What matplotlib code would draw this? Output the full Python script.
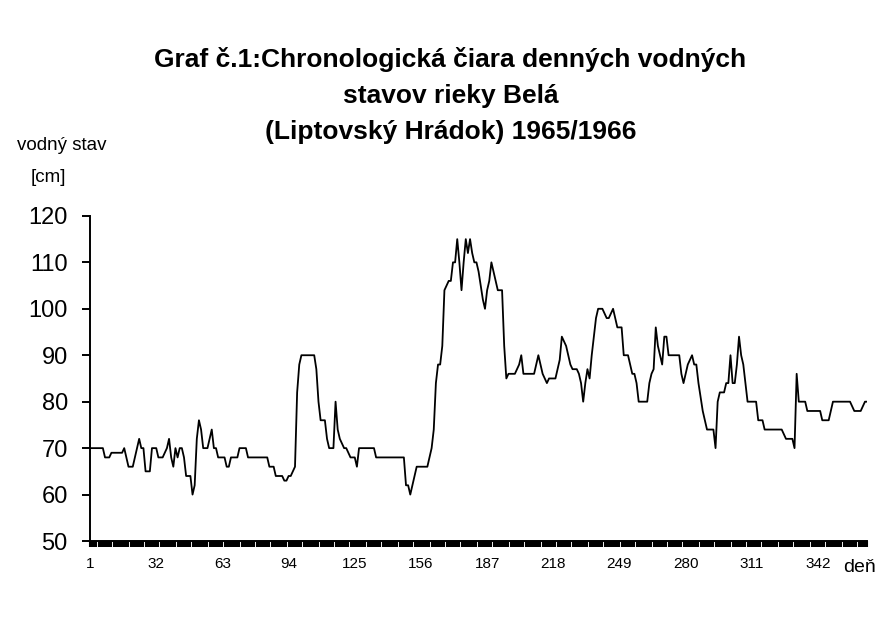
import matplotlib
matplotlib.use("Agg")
from matplotlib import pyplot as plt, font_manager
import numpy as np

# daily water levels [cm], split by the 31-day label blocks
days_001_031 = [70, 70, 70, 70, 70, 70, 70, 68, 68, 68, 69, 69, 69, 69, 69, 69,
                70, 68, 66, 66, 66, 68, 70, 72, 70, 70, 65, 65, 65, 70, 70]
days_032_062 = [70, 68, 68, 68, 69, 70, 72, 68, 66, 70, 68, 70, 70, 68, 64, 64,
                64, 60, 62, 72, 76, 74, 70, 70, 70, 72, 74, 70, 70, 68, 68]
days_063_093 = [68, 68, 66, 66, 68, 68, 68, 68, 70, 70, 70, 70, 68, 68, 68, 68,
                68, 68, 68, 68, 68, 68, 66, 66, 66, 64, 64, 64, 64, 63, 63]
days_094_124 = [64, 64, 65, 66, 82, 88, 90, 90, 90, 90, 90, 90, 90, 87, 80, 76,
                76, 76, 72, 70, 70, 70, 80, 74, 72, 71, 70, 70, 69, 68, 68]
days_125_155 = [68, 66, 70, 70, 70, 70, 70, 70, 70, 70, 68, 68, 68, 68, 68, 68,
                68, 68, 68, 68, 68, 68, 68, 68, 62, 62, 60, 62, 64, 66, 66]
days_156_186 = [66, 66, 66, 66, 68, 70, 74, 84, 88, 88, 92, 104, 105, 106, 106, 110,
                110, 115, 110, 104, 110, 115, 112, 115, 112, 110, 110, 108, 105, 102, 100]
days_187_217 = [104, 106, 110, 108, 106, 104, 104, 104, 92, 85, 86, 86, 86, 86, 87, 88,
                90, 86, 86, 86, 86, 86, 86, 88, 90, 88, 86, 85, 84, 85, 85]
days_218_248 = [85, 85, 87, 89, 94, 93, 92, 90, 88, 87, 87, 87, 86, 84, 80, 84,
                87, 85, 90, 94, 98, 100, 100, 100, 99, 98, 98, 99, 100, 98, 96]
days_249_279 = [96, 96, 90, 90, 90, 88, 86, 86, 84, 80, 80, 80, 80, 80, 84, 86,
                87, 96, 92, 90, 88, 94, 94, 90, 90, 90, 90, 90, 90, 86, 84]
days_280_310 = [86, 88, 89, 90, 88, 88, 84, 81, 78, 76, 74, 74, 74, 74, 70, 80,
                82, 82, 82, 84, 84, 90, 84, 84, 88, 94, 90, 88, 84, 80, 80]
days_311_341 = [80, 80, 80, 76, 76, 76, 74, 74, 74, 74, 74, 74, 74, 74, 74, 73,
                72, 72, 72, 72, 70, 86, 80, 80, 80, 80, 78, 78, 78, 78, 78]
days_342_365 = [78, 78, 76, 76, 76, 76, 78, 80, 80, 80, 80, 80, 80, 80, 80, 80,
                79, 78, 78, 78, 78, 79, 80, 80]

x_labels = [1, 32, 63, 94, 125, 156, 187, 218, 249, 280, 311, 342]
y_ticks = [50, 60, 70, 80, 90, 100, 110, 120]
title_lines = ["Graf č.1:Chronologická čiara denných vodných",
               "stavov rieky Belá",
               "(Liptovský Hrádok) 1965/1966"]

level = np.array(days_001_031 + days_032_062 + days_063_093 + days_094_124 +
                 days_125_155 + days_156_186 + days_187_217 + days_218_248 +
                 days_249_279 + days_280_310 + days_311_341 + days_342_365)
day = np.arange(1, len(level) + 1)

installed = {f.name for f in font_manager.fontManager.ttflist}
main_font = "Liberation Sans" if "Liberation Sans" in installed else "DejaVu Sans"
narrow_font = "Liberation Sans Narrow" if "Liberation Sans Narrow" in installed else main_font
plt.rcParams['font.family'] = [main_font, 'DejaVu Sans']

fig = plt.figure(figsize=(8.83, 6.35), dpi=100)
ax = fig.add_axes([0.102, 0.148, 0.880, 0.512])

ax.plot(day, level, color='black', lw=1.3)

ax.set_xlim(1, 365)
ax.set_ylim(50, 120)
ax.set_yticks(y_ticks)
ax.set_xticks(x_labels)
ax.set_xticks(day, minor=True)

for side in ['top', 'right']:
    ax.spines[side].set_visible(False)
for side in ['left', 'bottom']:
    ax.spines[side].set_linewidth(1.4)

ax.tick_params(axis='y', direction='out', length=6, width=1.4, labelsize=17, pad=10)
ax.tick_params(axis='x', which='both', direction='out', length=4.5, width=1.5, pad=7)
for lbl in ax.get_xticklabels():
    lbl.set_fontfamily(narrow_font)
    lbl.set_fontsize(11)

# title, one line at a time
for i, line in enumerate(title_lines):
    fig.text(0.510, 1 - (60 + 36 * i) / 635, line, ha='center', va='center',
             fontsize=19, fontweight='bold')

fig.text(62 / 883, 1 - 146 / 635, "vodný stav", ha='center', va='center', fontsize=13.5)
fig.text(48 / 883, 1 - 177 / 635, "[cm]", ha='center', va='center', fontsize=13.5)
fig.text(860 / 883, 1 - 567 / 635, "deň", ha='center', va='center', fontsize=14)

fig.savefig("out.png", dpi=100, facecolor='white')
